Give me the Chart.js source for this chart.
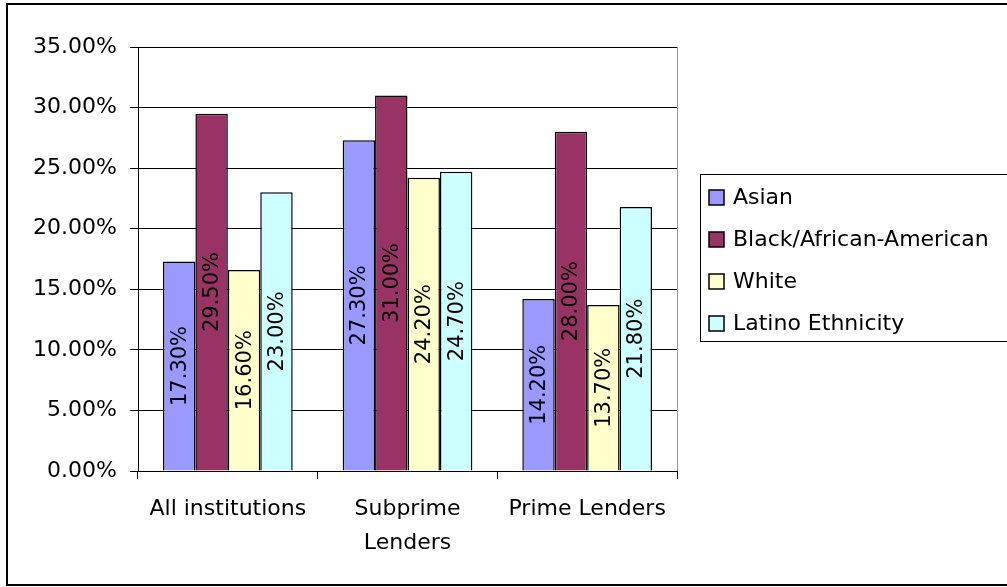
<!DOCTYPE html>
<html>
<head>
<meta charset="utf-8">
<script src="https://cdn.jsdelivr.net/npm/chart.js@4/dist/chart.umd.min.js"></script>
<style>
    body { margin: 0; background: #fff; }
</style>
</head>
<body>
<canvas id="myChart" width="1007" height="587"></canvas>
<script>
const categories = ['All institutions', ['Subprime', 'Lenders'], 'Prime Lenders'];
const asian = [17.3, 27.3, 14.2];
const black = [29.5, 31.0, 28.0];
const white = [16.6, 24.2, 13.7];
const latino = [23.0, 24.7, 21.8];
const yTicks = [0, 5, 10, 15, 20, 25, 30, 35];

const FONT = 'DejaVu Sans';

function pct(v) {
    return v.toFixed(2) + '%';
}

// labels written sideways in the middle of each bar + frame, right border, legend box
const extras = {
    id: 'extras',
    afterDatasetsDraw(chart) {
        const ctx = chart.ctx;
        ctx.save();
        ctx.font = '21px "' + FONT + '"';
        ctx.fillStyle = '#000';
        ctx.textAlign = 'center';
        ctx.textBaseline = 'middle';
        chart.data.datasets.forEach(function (ds, i) {
            chart.getDatasetMeta(i).data.forEach(function (bar, j) {
                const cy = (bar.y + bar.base) / 2;
                ctx.save();
                ctx.translate(bar.x + 1, cy);
                ctx.rotate(-Math.PI / 2);
                ctx.fillText(pct(ds.data[j]), 0, 0);
                ctx.restore();
            });
        });
        ctx.restore();
    },
    afterDraw(chart) {
        const ctx = chart.ctx;
        const area = chart.chartArea;
        ctx.save();

        // right edge of plot area
        ctx.strokeStyle = '#999';
        ctx.lineWidth = 1;
        ctx.beginPath();
        ctx.moveTo(Math.round(area.right) + 0.5, area.top);
        ctx.lineTo(Math.round(area.right) + 0.5, area.bottom);
        ctx.stroke();

        // outer frame
        ctx.strokeStyle = '#000';
        ctx.lineWidth = 2;
        ctx.strokeRect(7, 4, 1010, 581);

        // legend
        const lx = 700, ly = 174, lh = 167;
        ctx.lineWidth = 1;
        ctx.strokeRect(lx + 0.5, ly + 0.5, 400, lh);
        ctx.font = '22px "' + FONT + '"';
        ctx.textAlign = 'left';
        ctx.textBaseline = 'middle';
        chart.data.datasets.forEach(function (ds, i) {
            const y = 197 + i * 42;
            ctx.fillStyle = ds.backgroundColor;
            ctx.fillRect(709, y - 7, 15, 15);
            ctx.strokeStyle = '#000';
            ctx.lineWidth = 1.5;
            ctx.strokeRect(709, y - 7, 15, 15);
            ctx.fillStyle = '#000';
            ctx.fillText(ds.label, 733, y + 1);
        });
        ctx.restore();
    }
};

const data = {
    labels: categories,
    datasets: [{
        label: 'Asian',
        backgroundColor: '#9999FF',
        data: asian
    },
    {
        label: 'Black/African-American',
        backgroundColor: '#993366',
        data: black
    },
    {
        label: 'White',
        backgroundColor: '#FFFFCC',
        data: white
    },
    {
        label: 'Latino Ethnicity',
        backgroundColor: '#CCFFFF',
        data: latino
    }]
};

const config = {
    type: 'bar',
    data: data,
    options: {
        responsive: false,
        animation: false,
        layout: {
            padding: { top: 47, right: 330, bottom: 0, left: 0 }
        },
        datasets: {
            bar: {
                borderColor: '#000',
                borderWidth: 1.5,
                categoryPercentage: 0.722,
                barPercentage: 1
            }
        },
        plugins: {
            legend: { display: false },
            tooltip: { enabled: false }
        },
        scales: {
            x: {
                afterFit: function (scale) { scale.height = 116; },
                border: { color: '#000', width: 1 },
                grid: {
                    offset: true,
                    drawOnChartArea: false,
                    color: '#000',
                    tickLength: 8
                },
                ticks: {
                    color: '#000',
                    padding: 13,
                    maxRotation: 0,
                    font: { family: FONT, size: 22, lineHeight: 1.55 }
                }
            },
            y: {
                min: 0,
                max: 35,
                afterFit: function (scale) { scale.width = 138; },
                afterBuildTicks: function (scale) {
                    scale.ticks = yTicks.map(function (v) { return { value: v }; });
                },
                border: { color: '#000', width: 1 },
                grid: {
                    color: '#000',
                    tickLength: 8
                },
                ticks: {
                    color: '#000',
                    padding: 13,
                    font: { family: FONT, size: 22 },
                    callback: function (v) { return pct(v); }
                }
            }
        }
    },
    plugins: [extras]
};

const myChart = new Chart(
    document.getElementById('myChart'),
    config
);
</script>
</body>
</html>
